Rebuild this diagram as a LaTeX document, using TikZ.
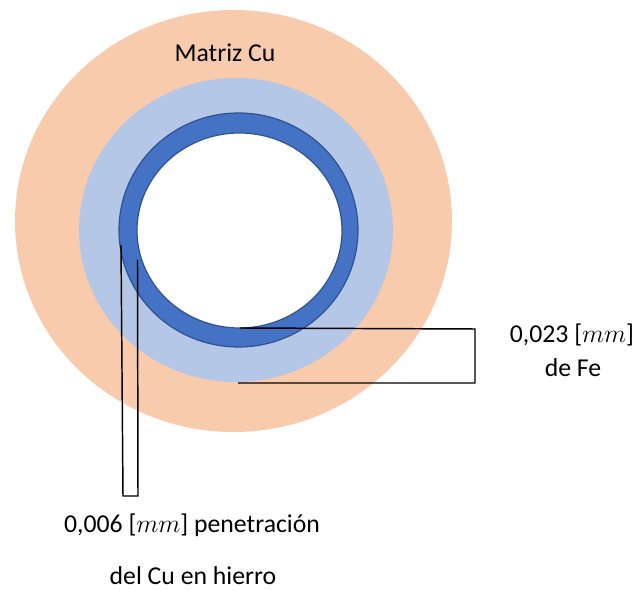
\documentclass[tikz,border=0pt]{standalone}
\usepackage{fix-cm}
\usepackage{fontspec}
\setmainfont{Carlito}
\definecolor{cuorange}{HTML}{F8CBAD}
\definecolor{lightfe}{HTML}{B4C7E7}
\definecolor{ringblue}{HTML}{4472C4}
\definecolor{ringedge}{HTML}{2F528F}
\tikzset{
  lbl/.style={anchor=base, inner sep=0pt, font=\fontsize{19.3}{23}\selectfont},
  bracket/.style={draw=black, line width=1.1pt, line join=miter}
}
\begin{document}
\begin{tikzpicture}[x=0.75pt,y=-0.75pt]
\useasboundingbox (0,0) rectangle (637,591);
% copper matrix
\fill[cuorange] (233.5,221) ellipse [x radius=218.5*0.75pt, y radius=211*0.75pt];
% diffusion zone
\fill[lightfe] (236,230) ellipse [x radius=157*0.75pt, y radius=152*0.75pt];
% iron ring
\fill[ringblue, even odd rule]
  (238.5,230) ellipse [x radius=119.5*0.75pt, y radius=117*0.75pt]
  (239.5,230.5) ellipse [x radius=102.5*0.75pt, y radius=97.5*0.75pt];
\draw[ringedge, line width=0.9pt] (238.5,230) ellipse [x radius=119.5*0.75pt, y radius=117*0.75pt];
\draw[ringedge, line width=0.9pt, fill=white] (239.5,230.5) ellipse [x radius=102.5*0.75pt, y radius=97.5*0.75pt];
% labels
\node[lbl] (matriz) at (225,62) {Matriz Cu};
\node[lbl] (fe1) at (572,343) {0,023 [$mm$]};
\node[lbl] (fe2) at (573,377) {de Fe};
\node[lbl] (pen1) at (192,533) {0,006 [$mm$] penetración};
\node[lbl] (pen2) at (193,585) {del Cu en hierro};
% bracket coordinates
\coordinate (r1) at (240,328);
\coordinate (r2) at (475,329);
\coordinate (r3) at (475,383);
\coordinate (r4) at (238,383);
\coordinate (l1) at (121,245);
\coordinate (l2) at (123,496);
\coordinate (l3) at (138,496);
\coordinate (l4) at (137.5,260);
\draw[bracket] (r1) -- (r2) -- (r3) -- (r4);
\draw[bracket] (l1) -- (l2) -- (l3) -- (l4);
\end{tikzpicture}
\end{document}
